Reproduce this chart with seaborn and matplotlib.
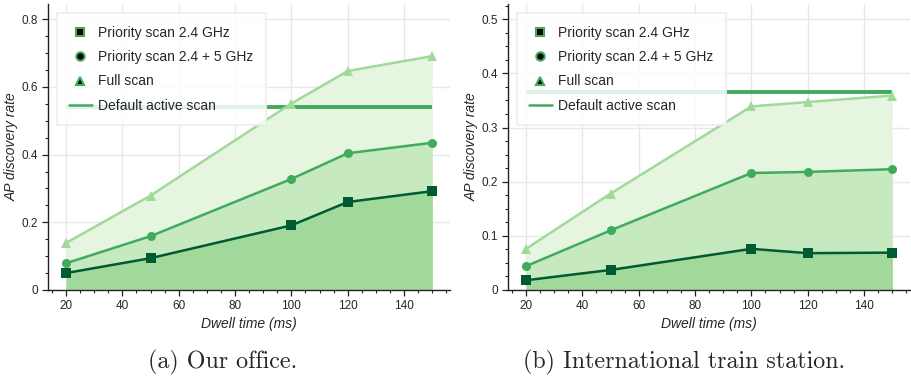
import matplotlib
matplotlib.use("Agg")
import matplotlib.pyplot as plt
import seaborn as sns
import pandas as pd
from matplotlib.lines import Line2D
from matplotlib.ticker import MultipleLocator, FuncFormatter

sns.set_theme(style="white")
plt.rcParams['font.family'] = ['Liberation Sans', 'DejaVu Sans']

dwell = [20, 50, 100, 120, 150]

office_p24 = [0.050, 0.094, 0.191, 0.260, 0.292]
office_p245 = [0.079, 0.159, 0.328, 0.404, 0.435]
office_full = [0.139, 0.279, 0.551, 0.647, 0.691]
office_default = 0.540

station_p24 = [0.018, 0.037, 0.076, 0.068, 0.069]
station_p245 = [0.044, 0.110, 0.216, 0.218, 0.223]
station_full = [0.076, 0.178, 0.339, 0.347, 0.359]
station_default = 0.365

labels = ["Priority scan 2.4 GHz", "Priority scan 2.4 + 5 GHz", "Full scan", "Default active scan"]
captions = ["(a) Our office.", "(b) International train station."]

line_colors = ["#005a32", "#41ab5d", "#a1d99b"]
fill_colors = ["#a1d99b", "#c7e9c0", "#e5f5e0"]
markers = ["s", "o", "^"]
default_color = "#41ab5d"

W, H = 912, 379
fig = plt.figure(figsize=(W / 100, H / 100), dpi=100)

panels = [
    (office_p24, office_p245, office_full, office_default, 0.845, 0.2, 0.05),
    (station_p24, station_p245, station_full, station_default, 0.528, 0.1, 0.025),
]
lefts = [48, 508]
caption_x = [223, 684]

for i, (p24, p245, full, dflt, ytop, major, minor) in enumerate(panels):
    ax = fig.add_axes([lefts[i] / W, (H - 290) / H, 402 / W, 286 / H])
    df = pd.DataFrame({"dwell": dwell, "p24": p24, "p245": p245, "full": full})
    series = ["p24", "p245", "full"]
    for k in [2, 1, 0]:
        ax.fill_between(df["dwell"], 0, df[series[k]], color=fill_colors[k], lw=0, zorder=1.5)
    for k in [2, 1, 0]:
        sns.lineplot(data=df, x="dwell", y=series[k], ax=ax, color=line_colors[k],
                     marker=markers[k], markersize=7 if k != 1 else 6.5,
                     markeredgewidth=0, lw=1.8, zorder=3, legend=False)
    ax.hlines(dflt, dwell[0], dwell[-1], color=default_color, lw=2.8, zorder=2.5)

    ax.set_xlim(13.6, 156.3)
    ax.set_ylim(0, ytop)
    ax.xaxis.set_major_locator(MultipleLocator(20))
    ax.xaxis.set_minor_locator(MultipleLocator(5))
    ax.yaxis.set_major_locator(MultipleLocator(major))
    ax.yaxis.set_minor_locator(MultipleLocator(minor))
    ax.yaxis.set_major_formatter(FuncFormatter(lambda v, p: "0" if abs(v) < 1e-9 else f"{v:g}"))
    ax.set_xticks([20, 40, 60, 80, 100, 120, 140])
    ax.grid(True, which="major", color="#e8e8e8", lw=1.0, zorder=0)
    ax.set_axisbelow(True)
    for s in ["top", "right"]:
        ax.spines[s].set_visible(False)
    for s in ["left", "bottom"]:
        ax.spines[s].set_color("#222222")
        ax.spines[s].set_linewidth(1.0)
    ax.tick_params(which="major", direction="out", length=4, width=0.9, color="#222222",
                   labelsize=8.5, pad=3, bottom=True, left=True)
    ax.tick_params(which="minor", direction="out", length=2.5, width=0.8, color="#222222",
                   bottom=True, left=True)
    ax.set_xlabel("Dwell time (ms)", fontstyle="italic", fontsize=10, labelpad=4)
    ax.set_ylabel("AP discovery rate", fontstyle="italic", fontsize=10, labelpad=2)

    handles = [
        Line2D([], [], ls="none", marker="s", markersize=5.5, markerfacecolor="black",
               markeredgecolor=default_color, markeredgewidth=1.5),
        Line2D([], [], ls="none", marker="o", markersize=6, markerfacecolor="black",
               markeredgecolor=default_color, markeredgewidth=1.5),
        Line2D([], [], ls="none", marker="^", markersize=6, markerfacecolor="black",
               markeredgecolor=default_color, markeredgewidth=1.5),
        Line2D([], [], color=default_color, lw=1.8),
    ]
    leg = ax.legend(handles, labels, loc="upper left", bbox_to_anchor=(0.022, 0.968),
                    fontsize=10, frameon=True, fancybox=False, framealpha=0.85,
                    edgecolor="#eeeeee", handlelength=1.6, handletextpad=0.45,
                    labelspacing=0.75, borderpad=0.9, borderaxespad=0)
    leg.get_frame().set_linewidth(1.5)
    leg.set_zorder(4)

    fig.text(caption_x[i] / W, 1 - 362 / H, captions[i], ha="center", va="center",
             fontsize=17.3, family="cmr10")

fig.savefig("out.png", dpi=100)
